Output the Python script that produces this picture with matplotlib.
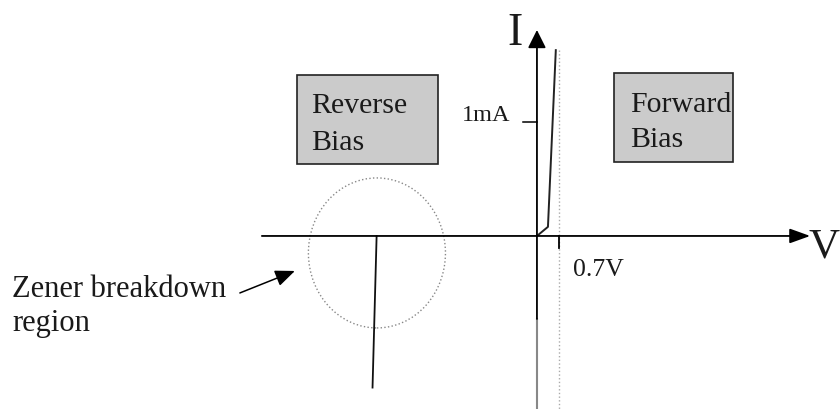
import matplotlib
matplotlib.use("Agg")
import matplotlib.pyplot as plt
from matplotlib.patches import Ellipse, Rectangle

# diode I-V characteristic (V in volts, I in mA)
forward_v = [0.0, 0.35, 0.60]
forward_i = [0.0, 0.08, 1.63]
breakdown_v = [-5.10, -5.23]
breakdown_i = [0.0, -1.33]
knee_v = 0.7
tick_i = 1.0
label_v = "0.7V"
label_i = "1mA"

plt.rcParams['font.family'] = ['Liberation Serif', 'DejaVu Serif']
txt = '#1a1a1a'

fig = plt.figure(figsize=(8.4, 4.09), dpi=100)
ax = fig.add_axes([0, 0, 1, 1])
ax.set_xlim(-17.08, 9.64)
ax.set_ylim(-1.518, 2.070)
ax.axis('off')

# axes of the graph
ax.annotate('', xy=(8.69, 0), xytext=(-8.75, 0),
            arrowprops=dict(arrowstyle='-|>,head_length=1.25,head_width=0.45',
                            lw=1.3, color='black', mutation_scale=10, shrinkA=0, shrinkB=0))
ax.annotate('', xy=(0, 1.807), xytext=(0, -0.728),
            arrowprops=dict(arrowstyle='-|>,head_length=1.1,head_width=0.55',
                            lw=1.3, color='black', mutation_scale=10, shrinkA=0, shrinkB=0))
ax.plot([0, 0], [-0.728, -1.518], color='#888888', lw=1.5)

# 0.7V dotted marker + ticks
ax.plot([knee_v, knee_v], [forward_i[-1], -1.518], color='#aaaaaa', lw=1, ls=':')
ax.plot([knee_v, knee_v], [0, -0.105], color='black', lw=1.3)
ax.plot([-0.445, 0], [tick_i, tick_i], color='black', lw=1.1)

# curves
ax.plot(forward_v, forward_i, color='#222222', lw=1.4)
ax.plot(breakdown_v, breakdown_i, color='#111111', lw=1.3)

# zener region circle
ax.add_patch(Ellipse((-5.09, -0.149), 4.36, 1.316, fill=False, ec='#888888', lw=1, ls=':'))

# bias boxes
ax.add_patch(Rectangle((-7.64, 0.632), 4.49, 0.780, fc='#cbcbcb', ec='#222222', lw=1.2))
ax.add_patch(Rectangle((2.45, 0.649), 3.79, 0.781, fc='#cbcbcb', ec='#222222', lw=1.2))

ax.text(-7.19, 1.079, 'Reverse', fontsize=21.5, color=txt, va='baseline')
ax.text(-7.19, 0.754, 'Bias', fontsize=21.5, color=txt, va='baseline')
ax.text(2.96, 1.088, 'Forward', fontsize=21.5, color=txt, va='baseline')
ax.text(2.96, 0.781, 'Bias', fontsize=21.5, color=txt, va='baseline')

# labels
ax.text(-0.95, 1.675, 'I', fontsize=33, color=txt, va='baseline')
ax.text(8.63, -0.193, 'V', fontsize=31, color=txt, va='baseline')
ax.text(-2.39, 1.011, label_i, fontsize=17.5, color=txt, va='baseline')
ax.text(1.145, -0.351, label_v, fontsize=18.5, color=txt, va='baseline')

ax.text(-16.70, -0.532, 'Zener breakdown', fontsize=22, color=txt, va='baseline')
ax.text(-16.70, -0.833, 'region', fontsize=22, color=txt, va='baseline')
ax.annotate('', xy=(-7.70, -0.307), xytext=(-9.45, -0.5),
            arrowprops=dict(arrowstyle='-|>,head_length=1.2,head_width=0.5',
                            lw=1.1, color='black', mutation_scale=10, shrinkA=0, shrinkB=0))

fig.savefig('out.png', dpi=100)
